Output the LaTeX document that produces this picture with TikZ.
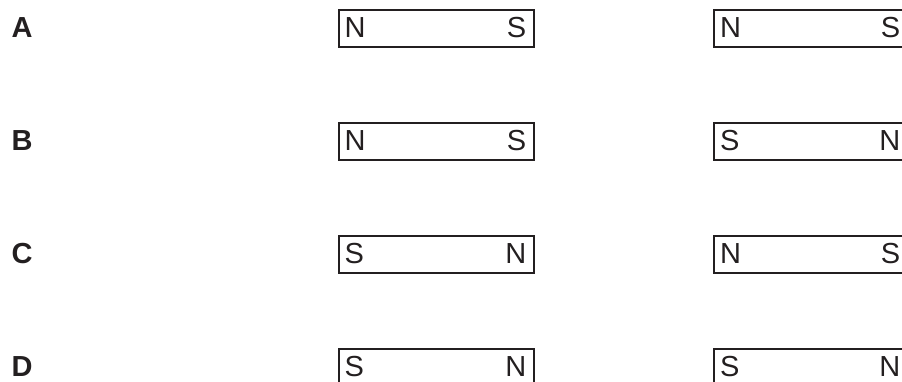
\documentclass[tikz,border=0pt]{standalone}
\usepackage{fontspec}
\setmainfont{Liberation Sans}
\definecolor{ink}{HTML}{231F20}
\begin{document}
\begin{tikzpicture}[x=1pt,y=-1pt,
  magnet/.style={draw=ink, line width=2pt, inner sep=0pt, minimum width=195pt, minimum height=37pt, anchor=north west},
  pole/.style={text=ink, inner sep=0pt, font=\fontsize{29}{34}\selectfont},
  rowlabel/.style={text=ink, inner sep=0pt, anchor=base west, font=\fontsize{29}{34}\selectfont\bfseries}]
\useasboundingbox (0,0) rectangle (902,381);
\foreach \lab/\a/\b/\c/\d [count=\i from 0] in {A/N/S/N/S, B/N/S/S/N, C/S/N/N/S, D/S/N/S/N}{
  \pgfmathsetmacro{\top}{8.5+113*\i}
  \pgfmathsetmacro{\base}{\top+18.5+10.4}
  \node[rowlabel] (lab\lab) at (11.5,\base) {\lab};
  \node[magnet] (L\lab) at (338,\top) {};
  \node[magnet] (R\lab) at (713,\top) {};
  \node[pole, anchor=base west] (L\lab a) at (344.5,\base) {\a};
  \node[pole, anchor=base east] (L\lab b) at (526.5,\base) {\b};
  \node[pole, anchor=base west] (R\lab a) at (720,\base) {\c};
  \node[pole, anchor=base east] (R\lab b) at (900.5,\base) {\d};
}
\end{tikzpicture}
\end{document}
